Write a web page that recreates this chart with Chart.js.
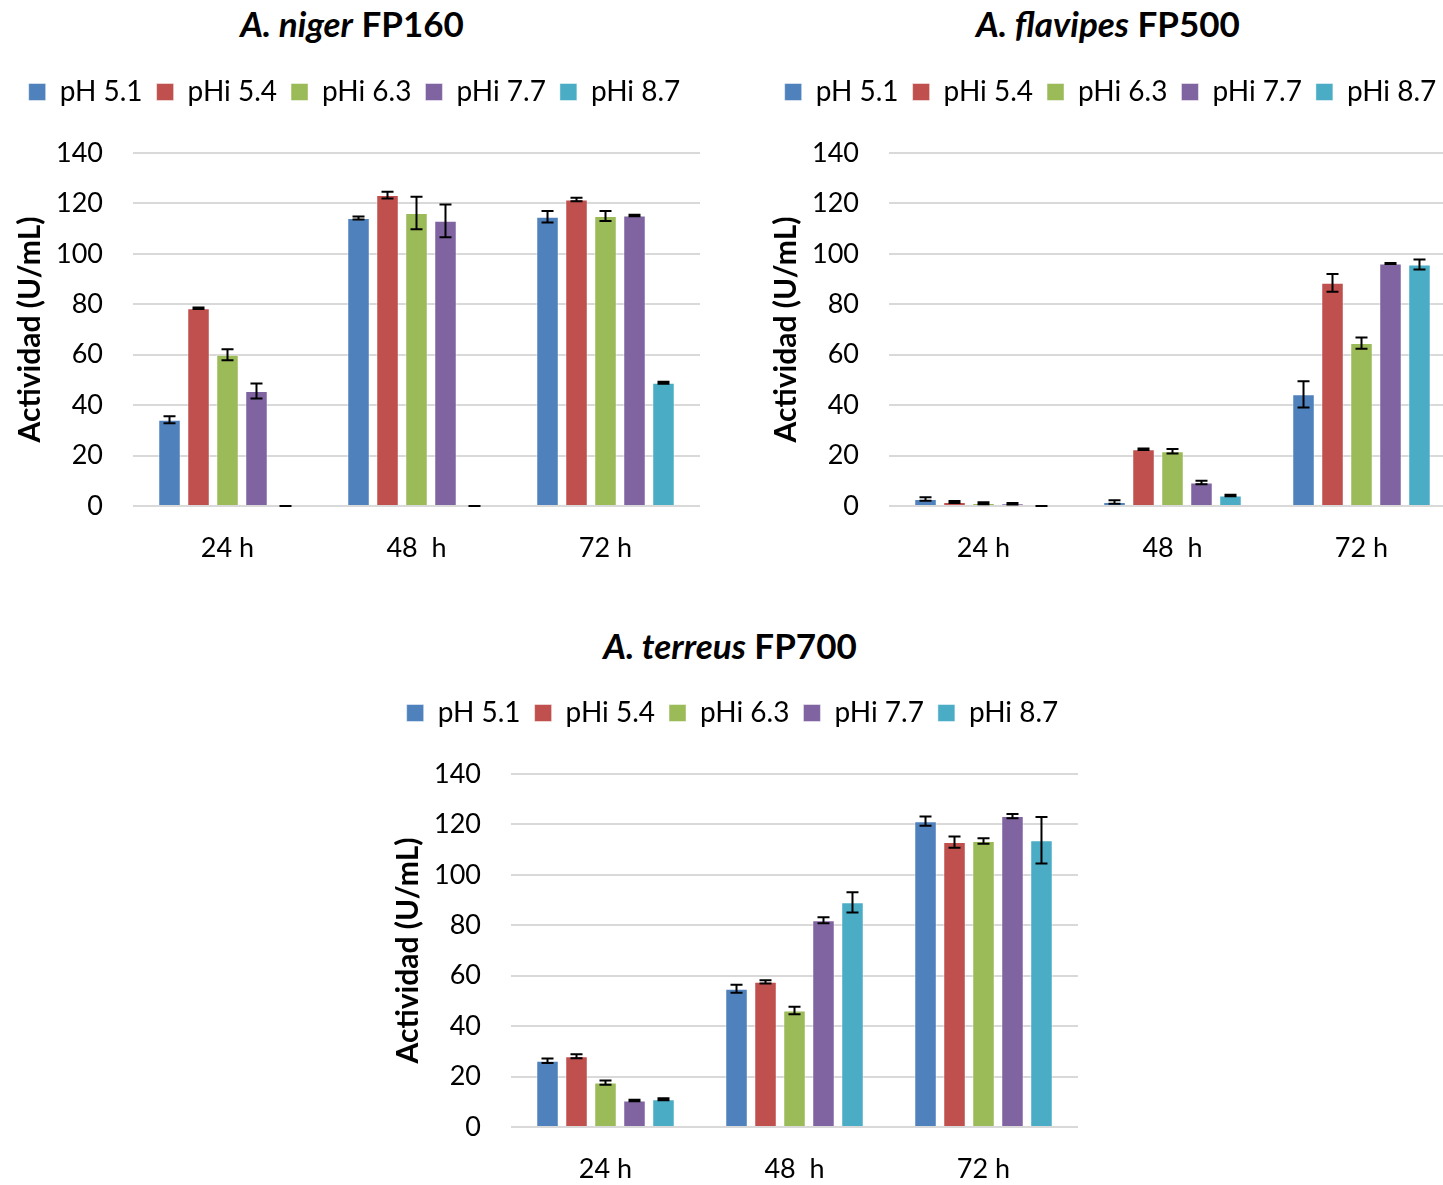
<!DOCTYPE html>
<html>
<head>
<meta charset="utf-8">
<script src="https://cdn.jsdelivr.net/npm/chart.js@4"></script>
<style>
  html, body { margin:0; padding:0; background:#fff; width:1443px; height:1185px; overflow:hidden; }
  .box { position:absolute; }
  .ttl { position:absolute; font-family:Lato, sans-serif; font-weight:bold; font-size:35px; color:#000; white-space:nowrap; transform:translate(-50%,-50%); line-height:1; }
</style>
</head>
<body>
<div class="ttl" style="left:352px; top:23px;"><i>A. niger</i> FP160</div>
<div class="ttl" style="left:1108px; top:23px;"><i>A. flavipes</i> FP500</div>
<div class="ttl" style="left:730px; top:645px;"><i>A. terreus</i> FP700</div>
<div class="box" style="left:0px; top:64px; width:720px; height:508px;"><canvas id="c1"></canvas></div>
<div class="box" style="left:756px; top:64px; width:720px; height:508px;"><canvas id="c2"></canvas></div>
<div class="box" style="left:378px; top:685px; width:720px; height:508px;"><canvas id="c3"></canvas></div>
<script>
// ---- data ----
const categories = ['24 h', '48  h', '72 h'];
const seriesNames = ['pH 5.1', 'pHi 5.4', 'pHi 6.3', 'pHi 7.7', 'pHi 8.7'];
const yTicks = [0, 20, 40, 60, 80, 100, 120, 140];

// A. niger FP160
const niger_pH51  = [34.2, 114.2, 114.7];
const niger_pHi54 = [78.4, 123.3, 121.6];
const niger_pHi63 = [60.0, 116.2, 115.0];
const niger_pHi77 = [45.6, 113.1, 115.2];
const niger_pHi87 = [0, 0, 48.9];
const niger_err_pH51  = [1.4, 0.6, 2.3];
const niger_err_pHi54 = [0.3, 1.3, 0.7];
const niger_err_pHi63 = [2.2, 6.4, 2.0];
const niger_err_pHi77 = [3.0, 6.5, 0.3];
const niger_err_pHi87 = [0, 0, 0.4];

// A. flavipes FP500
const flav_pH51  = [2.8, 1.6, 44.3];
const flav_pHi54 = [1.6, 22.5, 88.5];
const flav_pHi63 = [1.1, 21.7, 64.6];
const flav_pHi77 = [0.9, 9.3, 96.2];
const flav_pHi87 = [0, 4.2, 95.8];
const flav_err_pH51  = [0.7, 0.7, 5.2];
const flav_err_pHi54 = [0.4, 0.3, 3.5];
const flav_err_pHi63 = [0.4, 0.9, 2.2];
const flav_err_pHi77 = [0.3, 0.7, 0.2];
const flav_err_pHi87 = [0, 0.3, 2.0];

// A. terreus FP700
const terr_pH51  = [26.3, 54.8, 121.3];
const terr_pHi54 = [28.1, 57.6, 113.0];
const terr_pHi63 = [17.6, 46.2, 113.4];
const terr_pHi77 = [10.5, 82.0, 123.3];
const terr_pHi87 = [11.0, 89.1, 113.7];
const terr_err_pH51  = [0.9, 1.6, 1.8];
const terr_err_pHi54 = [0.8, 0.65, 2.2];
const terr_err_pHi63 = [0.85, 1.5, 1.1];
const terr_err_pHi77 = [0.3, 1.2, 0.8];
const terr_err_pHi87 = [0.4, 4.0, 9.2];

const colors = ['#4F81BD', '#C0504D', '#9BBB59', '#8064A2', '#4BACC6'];

// ---- plugins ----
const errorBarPlugin = {
  id: 'errorBars',
  afterDatasetsDraw(chart) {
    const ctx = chart.ctx;
    const y = chart.scales.y;
    ctx.save();
    ctx.strokeStyle = '#000';
    ctx.lineWidth = 2;
    chart.data.datasets.forEach((ds, i) => {
      const meta = chart.getDatasetMeta(i);
      meta.data.forEach((bar, j) => {
        const v = ds.data[j], e = ds.errors[j];
        const yt = y.getPixelForValue(v + e);
        const yb = y.getPixelForValue(Math.max(v - e, 0));
        const x = bar.x, hw = 6;
        ctx.beginPath();
        ctx.moveTo(x, yt); ctx.lineTo(x, yb);
        ctx.moveTo(x - hw, yt); ctx.lineTo(x + hw, yt);
        ctx.moveTo(x - hw, yb); ctx.lineTo(x + hw, yb);
        ctx.stroke();
      });
    });
    ctx.restore();
  }
};
const legendHeightPlugin = {
  id: 'legendHeight',
  beforeLayout(chart) {
    const lg = chart.legend;
    if (lg && !lg._patched) {
      const fit = lg.fit;
      lg.fit = function () { fit.call(this); this.height = 89; };
      lg._patched = true;
    }
  }
};

function makeChart(id, series, errs) {
  const datasets = series.map((d, i) => ({
    label: seriesNames[i],
    data: d,
    errors: errs[i],
    backgroundColor: colors[i],
    borderColor: 'rgba(255,255,255,0.45)',
    borderWidth: 1,
    categoryPercentage: 0.767,
    barPercentage: 0.777
  }));
  return new Chart(document.getElementById(id), {
    type: 'bar',
    data: { labels: categories, datasets },
    plugins: [errorBarPlugin, legendHeightPlugin],
    options: {
      responsive: true,
      maintainAspectRatio: false,
      animation: false,
      layout: { padding: { left: 9, right: 20, top: 0, bottom: 8 } },
      plugins: {
        title: { display: false },
        tooltip: { enabled: false },
        legend: {
          display: true,
          position: 'top',
          labels: {
            boxWidth: 17, boxHeight: 17, padding: 14,
            color: '#000',
            font: { family: 'Lato', size: 28 }
          }
        }
      },
      scales: {
        x: {
          afterFit(scale) { scale.height = 58; },
          grid: { display: false, drawTicks: false },
          border: { display: false },
          ticks: { color: '#000', padding: 26, font: { family: 'Lato', size: 27 } }
        },
        y: {
          min: 0, max: 140,
          afterFit(scale) { scale.width = 124; },
          afterBuildTicks(scale) { scale.ticks = yTicks.map(v => ({ value: v })); },
          grid: { color: '#d9d9d9', lineWidth: 2, drawTicks: false },
          border: { display: false },
          ticks: { color: '#000', padding: 30, font: { family: 'Lato', size: 27 } },
          title: {
            display: true, text: 'Actividad (U/mL)', color: '#000',
            font: { family: 'Lato', size: 30, weight: 'bold' },
            padding: { top: 3, bottom: 4 }
          }
        }
      }
    }
  });
}

Promise.all([
  document.fonts.load('28px Lato'),
  document.fonts.load('bold 30px Lato'),
  document.fonts.load('bold italic 35px Lato')
]).catch(() => {}).then(() => {
  makeChart('c1',
    [niger_pH51, niger_pHi54, niger_pHi63, niger_pHi77, niger_pHi87],
    [niger_err_pH51, niger_err_pHi54, niger_err_pHi63, niger_err_pHi77, niger_err_pHi87]);
  makeChart('c2',
    [flav_pH51, flav_pHi54, flav_pHi63, flav_pHi77, flav_pHi87],
    [flav_err_pH51, flav_err_pHi54, flav_err_pHi63, flav_err_pHi77, flav_err_pHi87]);
  makeChart('c3',
    [terr_pH51, terr_pHi54, terr_pHi63, terr_pHi77, terr_pHi87],
    [terr_err_pH51, terr_err_pHi54, terr_err_pHi63, terr_err_pHi77, terr_err_pHi87]);
});
</script>
</body>
</html>
